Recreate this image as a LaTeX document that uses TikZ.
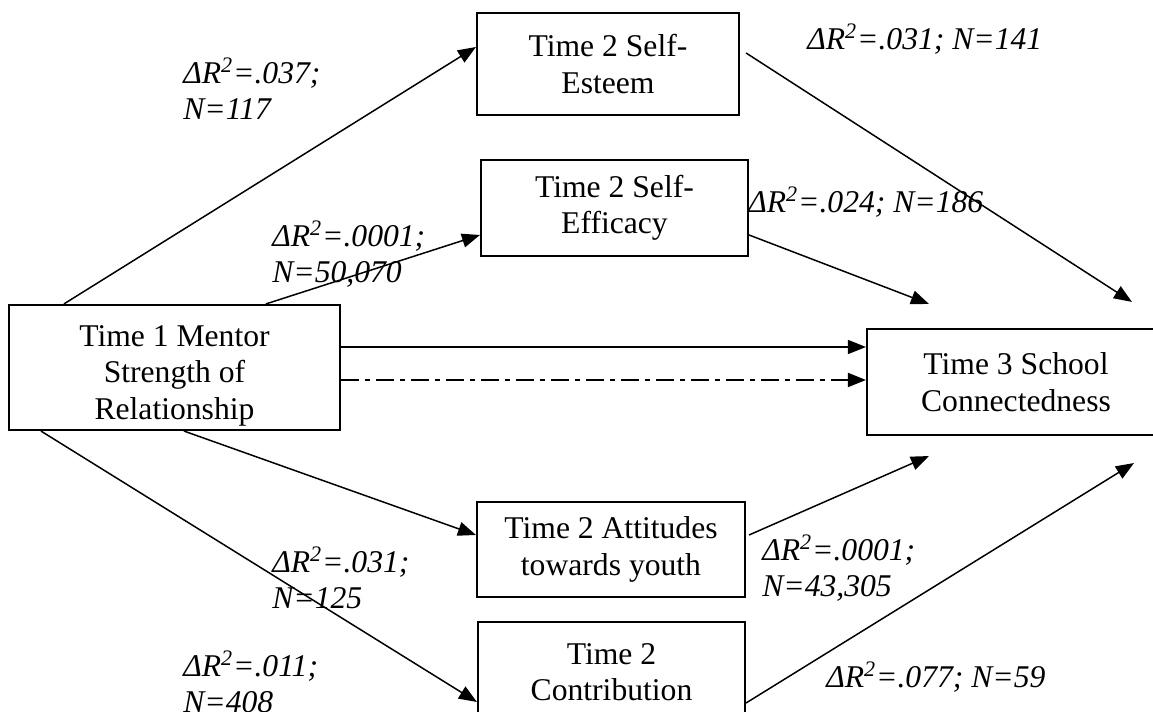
\documentclass[tikz,border=0pt]{standalone}
\usepackage{fontspec}
\setmainfont{Liberation Serif}
\usetikzlibrary{arrows.meta}

\begin{document}
\begin{tikzpicture}[
    every node/.style={font=\fontsize{18}{20.8}\selectfont},
    box/.style={draw, line width=1.2pt, inner sep=0pt, align=center},
    lab/.style={anchor=base west, inner sep=0pt, align=left, font=\fontsize{18}{20.8}\selectfont\itshape},
    link/.style={-{Triangle[length=0.36cm,width=0.28cm]}, line width=0.85pt},
    dashlink/.style={link, line width=1.1pt, dash pattern=on 0.36cm off 0.12cm on 0.1cm off 0.12cm}]
    \useasboundingbox (0,0) rectangle (23.06,14.24);
    \node[box, minimum width=6.62cm, minimum height=2.5cm] (mentor) at (3.49,6.89) {\rule{0pt}{0.75cm}Time 1 Mentor\\ Strength of\\ Relationship};
    \node[box, minimum width=5.24cm, minimum height=2.04cm] (esteem) at (12.16,12.96) {Time 2 Self-\\ Esteem};
    \node[box, minimum width=5.34cm, minimum height=1.92cm] (efficacy) at (12.29,10.08) {Time 2 Self-\\ Efficacy};
    \node[box, minimum width=5.96cm, minimum height=2.12cm] (school) at (20.32,6.60) {Time 3 School\\ Connectedness};
    \node[box, minimum width=5.36cm, minimum height=1.9cm] (attitudes) at (12.22,3.25) {Time 2 Attitudes\\ towards youth};
    \node[box, minimum width=5.34cm, minimum height=2.0cm] (contrib) at (12.23,0.80) {Time 2\\ Contribution};
    % arrow ends near the outcome box
    \coordinate (s1) at ([xshift=5.32cm,yshift=0.52cm]school.north west);
    \coordinate (s2) at ([xshift=1.26cm,yshift=0.48cm]school.north west);
    \coordinate (s3) at ([xshift=1.26cm,yshift=-0.40cm]school.south west);
    \coordinate (s4) at ([xshift=5.36cm,yshift=-0.54cm]school.south west);
    \draw[link] ([xshift=1.12cm]mentor.north west) -- ([yshift=0.34cm]esteem.west);
    \draw[link] ([xshift=5.16cm]mentor.north west) -- ([yshift=-0.54cm]efficacy.west);
    \draw[link] ([yshift=0.41cm]mentor.east) -- ([yshift=0.41cm]mentor.east -| school.west);
    \draw[dashlink] ([yshift=-0.25cm]mentor.east) -- ([yshift=-0.25cm]mentor.east -| school.west);
    \draw[link] ([xshift=3.52cm]mentor.south west) -- ([yshift=0.29cm]attitudes.west);
    \draw[link] ([xshift=0.66cm]mentor.south west) -- ([yshift=-0.6cm]contrib.west);
    \draw[link] ([xshift=0.12cm,yshift=0.22cm]esteem.east) -- (s1);
    \draw[link] ([yshift=-0.54cm]efficacy.east) -- (s2);
    \draw[link] ([xshift=0.06cm,yshift=0.29cm]attitudes.east) -- (s3);
    \draw[link] ([yshift=-0.62cm]contrib.east) -- (s4);
    % effect sizes
    \node[lab] (r1) at (3.66,11.84) {ΔR\textsuperscript{2}=.037;\\ N=117};
    \node[lab] (r2) at (5.44,8.58) {ΔR\textsuperscript{2}=.0001;\\ N=50,070};
    \node[lab] (r3) at (16.14,13.24) {ΔR\textsuperscript{2}=.031; N=141};
    \node[lab] (r4) at (14.96,9.98) {ΔR\textsuperscript{2}=.024; N=186};
    \node[lab] (r5) at (5.44,2.06) {ΔR\textsuperscript{2}=.031;\\ N=125};
    \node[lab] (r6) at (3.66,-0.02) {ΔR\textsuperscript{2}=.011;\\ N=408};
    \node[lab] (r7) at (15.24,2.30) {ΔR\textsuperscript{2}=.0001;\\ N=43,305};
    \node[lab] (r8) at (16.52,0.48) {ΔR\textsuperscript{2}=.077; N=59};
\end{tikzpicture}
\end{document}
